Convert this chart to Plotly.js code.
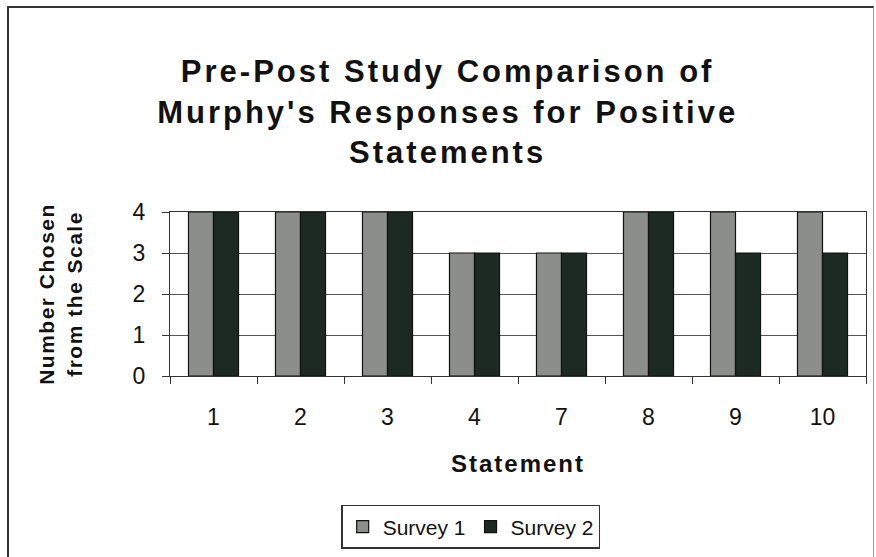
<!DOCTYPE html>
<html><head><meta charset="utf-8">
<script src="https://cdn.plot.ly/plotly-3.0.1.min.js"></script>
<style>
html,body{margin:0;padding:0;background:#fff;}
#frame{position:absolute;left:7px;top:6px;width:867px;height:560px;border-left:2px solid #333;border-top:2px solid #333;border-right:1px solid #999;box-sizing:border-box;}
#chart{position:absolute;left:0;top:0;width:876px;height:557px;}
.gtitle{letter-spacing:3px;}
.xtitle{letter-spacing:2px;}
.ytitle{letter-spacing:1.5px;}
</style></head><body>
<div id="frame"></div>
<div id="chart"></div>
<script>
const categories = ['1','2','3','4','7','8','9','10'];
const survey1 = [4,4,4,3,3,4,4,4];
const survey2 = [4,4,4,3,3,4,3,3];
const seriesNames = ['Survey 1','Survey 2'];
const yTicks = [0,1,2,3,4];

const traces = [
  {type:'bar', name:seriesNames[0], x:categories, y:survey1,
   marker:{color:'#8b8e8b', line:{color:'#111', width:1.2}}},
  {type:'bar', name:seriesNames[1], x:categories, y:survey2,
   marker:{color:'#1d2a23', line:{color:'#111', width:1.2}}}
];
const font = 'Arial, "Liberation Sans", sans-serif';
const layout = {
  width:876, height:557,
  paper_bgcolor:'rgba(0,0,0,0)', plot_bgcolor:'#fff',
  margin:{l:170, r:10, t:212, b:180},
  font:{family:font, color:'#111'},
  title:{text:"<b>Pre-Post Study Comparison of<br>Murphy's Responses for Positive<br>Statements</b>",
         font:{size:31, family:font, color:'#111'}, x:0.511, xanchor:'center', yref:'container', y:0.852, yanchor:'top'},
  barmode:'group', bargap:0.425, bargroupgap:0,
  showlegend:true,
  legend:{orientation:'h', x:0.432, xanchor:'center', y:-0.909, yanchor:'middle',
          font:{size:21, family:font, color:'#111'}, bordercolor:'#333', borderwidth:1.5,
          itemwidth:30, traceorder:'normal'},
  xaxis:{type:'category', tickson:'boundaries', ticks:'outside', ticklen:7, tickcolor:'#333',
         showline:true, linecolor:'#333', linewidth:1, mirror:true, showgrid:false,
         ticklabelstandoff:20,
         tickfont:{size:23, family:font, color:'#111'},
         title:{text:'<b>Statement</b>', font:{size:24, family:font, color:'#111'}, standoff:26}},
  yaxis:{range:[0,4], tickvals:yTicks, ticks:'outside', ticklen:7, tickcolor:'#333',
         showline:true, linecolor:'#333', linewidth:1, mirror:true,
         showgrid:true, gridcolor:'#555', gridwidth:1, zeroline:false,
         ticklabelstandoff:12,
         tickfont:{size:23, family:font, color:'#111'},
         title:{text:'<b>Number Chosen<br>from the Scale</b>', font:{size:21, family:font, color:'#111'}, standoff:44}}
};
Plotly.newPlot('chart', traces, layout, {staticPlot:true});
</script>
</body></html>
